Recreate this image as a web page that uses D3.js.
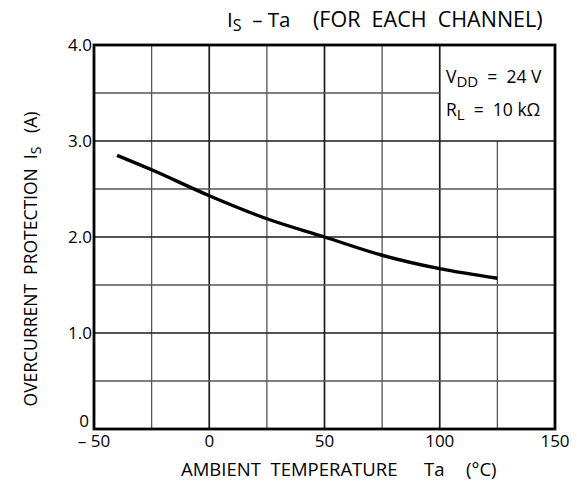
<!DOCTYPE html>
<html>
<head>
<meta charset="utf-8">
<script src="https://cdn.jsdelivr.net/npm/d3@7"></script>
<style>
  html, body { margin: 0; padding: 0; background: #fff; }
  svg text { font-family: "Open Sans", "DejaVu Sans", sans-serif; fill: #000; white-space: pre; }
</style>
</head>
<body>
<svg id="chart" width="577" height="491"></svg>
<script>
// ---- data ----
const temps = [-40, -25, 0, 25, 50, 75, 100, 125];
const currents = [2.85, 2.70, 2.43, 2.19, 2.00, 1.81, 1.67, 1.57];
const xTickValues = [-50, 0, 50, 100, 150];
const xTickLabels = ["\u2013 50", "0", "50", "100", "150"];
const yTickValues = [0, 1, 2, 3, 4];
const yTickLabels = ["0", "1.0", "2.0", "3.0", "4.0"];
const xGridValues = [-25, 0, 25, 50, 75, 100, 125];
const yGridValues = [0.5, 1, 1.5, 2, 2.5, 3, 3.5];
const xTitleParts = ["AMBIENT  TEMPERATURE", "Ta", "(\u00B0C)"];

const svg = d3.select("#chart");
const pLeft = 94, pRight = 555, pTop = 45, pBottom = 429;
const x = d3.scaleLinear().domain([-50, 150]).range([pLeft, pRight]);
const y = d3.scaleLinear().domain([0, 4]).range([pBottom, pTop]);

const isMajorX = v => v % 50 === 0;
const isMajorY = v => v % 1 === 0;

const g = svg.append("g");
// vertical grid (legend box region: x >= 100 and y >= 3)
xGridValues.forEach(v => {
  const y0 = (v > 100) ? y(3) : y(4);
  g.append("line")
    .attr("x1", x(v)).attr("x2", x(v))
    .attr("y1", y0).attr("y2", y(0))
    .attr("stroke", isMajorX(v) ? "#1a1a1a" : "#555")
    .attr("stroke-width", isMajorX(v) ? 1.7 : 1.3);
});
// horizontal grid
yGridValues.forEach(v => {
  const x1 = (v > 3) ? x(100) : x(150);
  g.append("line")
    .attr("x1", x(-50)).attr("x2", x1)
    .attr("y1", y(v)).attr("y2", y(v))
    .attr("stroke", isMajorY(v) ? "#1a1a1a" : "#555")
    .attr("stroke-width", isMajorY(v) ? 1.7 : 1.3);
});
// frame
g.append("rect")
  .attr("x", x(-50)).attr("y", y(4))
  .attr("width", x(150) - x(-50)).attr("height", y(0) - y(4))
  .attr("fill", "none").attr("stroke", "#000").attr("stroke-width", 2.8);

// curve
const line = d3.line()
  .x((d, i) => x(temps[i]))
  .y(d => y(d))
  .curve(d3.curveMonotoneX);
svg.append("path")
  .attr("d", line(currents))
  .attr("fill", "none")
  .attr("stroke", "#000")
  .attr("stroke-width", 3.4);

// y tick labels
svg.selectAll(".ytick").data(yTickValues).join("text")
  .attr("class", "ytick")
  .attr("x", d => d === 0 ? pLeft - 5 : pLeft - 2)
  .attr("y", d => d === 0 ? y(d) - 2 : y(d) + 6)
  .attr("text-anchor", "end")
  .attr("font-size", 17)
  .text((d, i) => yTickLabels[i]);

// x tick labels
svg.selectAll(".xtick").data(xTickValues).join("text")
  .attr("class", "xtick")
  .attr("x", d => x(d))
  .attr("y", pBottom + 18)
  .attr("text-anchor", "middle")
  .attr("font-size", 17)
  .text((d, i) => xTickLabels[i]);

// x axis title (three pieces)
const xTitleX = [181, 424, 466];
svg.selectAll(".xtitle").data(xTitleParts).join("text")
  .attr("class", "xtitle")
  .attr("x", (d, i) => xTitleX[i]).attr("y", 476)
  .attr("font-size", 18.5)
  .text(d => d);

// y axis title (rotated)
const yt = svg.append("text")
  .attr("transform", "translate(37,259) rotate(-90)")
  .attr("text-anchor", "middle")
  .attr("font-size", 17.5);
yt.append("tspan").text("OVERCURRENT  PROTECTION  I");
yt.append("tspan").attr("font-size", 14).attr("dy", 4).text("S");
yt.append("tspan").attr("dy", -4).text("   (A)");

// title
const t1 = svg.append("text").attr("x", 227).attr("y", 27).attr("font-size", 20.5);
t1.append("tspan").text("I");
t1.append("tspan").attr("font-size", 16).attr("dy", 4).text("S");
t1.append("tspan").attr("dy", -4).text("  \u2013 Ta");
svg.append("text").attr("x", 313).attr("y", 27).attr("font-size", 21.5)
  .text("(FOR  EACH  CHANNEL)");

// legend text
const l1 = svg.append("text").attr("x", 446).attr("y", 83).attr("font-size", 17.5);
l1.append("tspan").text("V");
l1.append("tspan").attr("font-size", 15).attr("dy", 4).text("DD");
l1.append("tspan").attr("dy", -4).text("  =  24 V");
const l2 = svg.append("text").attr("x", 446).attr("y", 116).attr("font-size", 17.5);
l2.append("tspan").text("R");
l2.append("tspan").attr("font-size", 15).attr("dy", 4).text("L");
l2.append("tspan").attr("dy", -4).text("  =  10 k\u03A9");
</script>
</body>
</html>
